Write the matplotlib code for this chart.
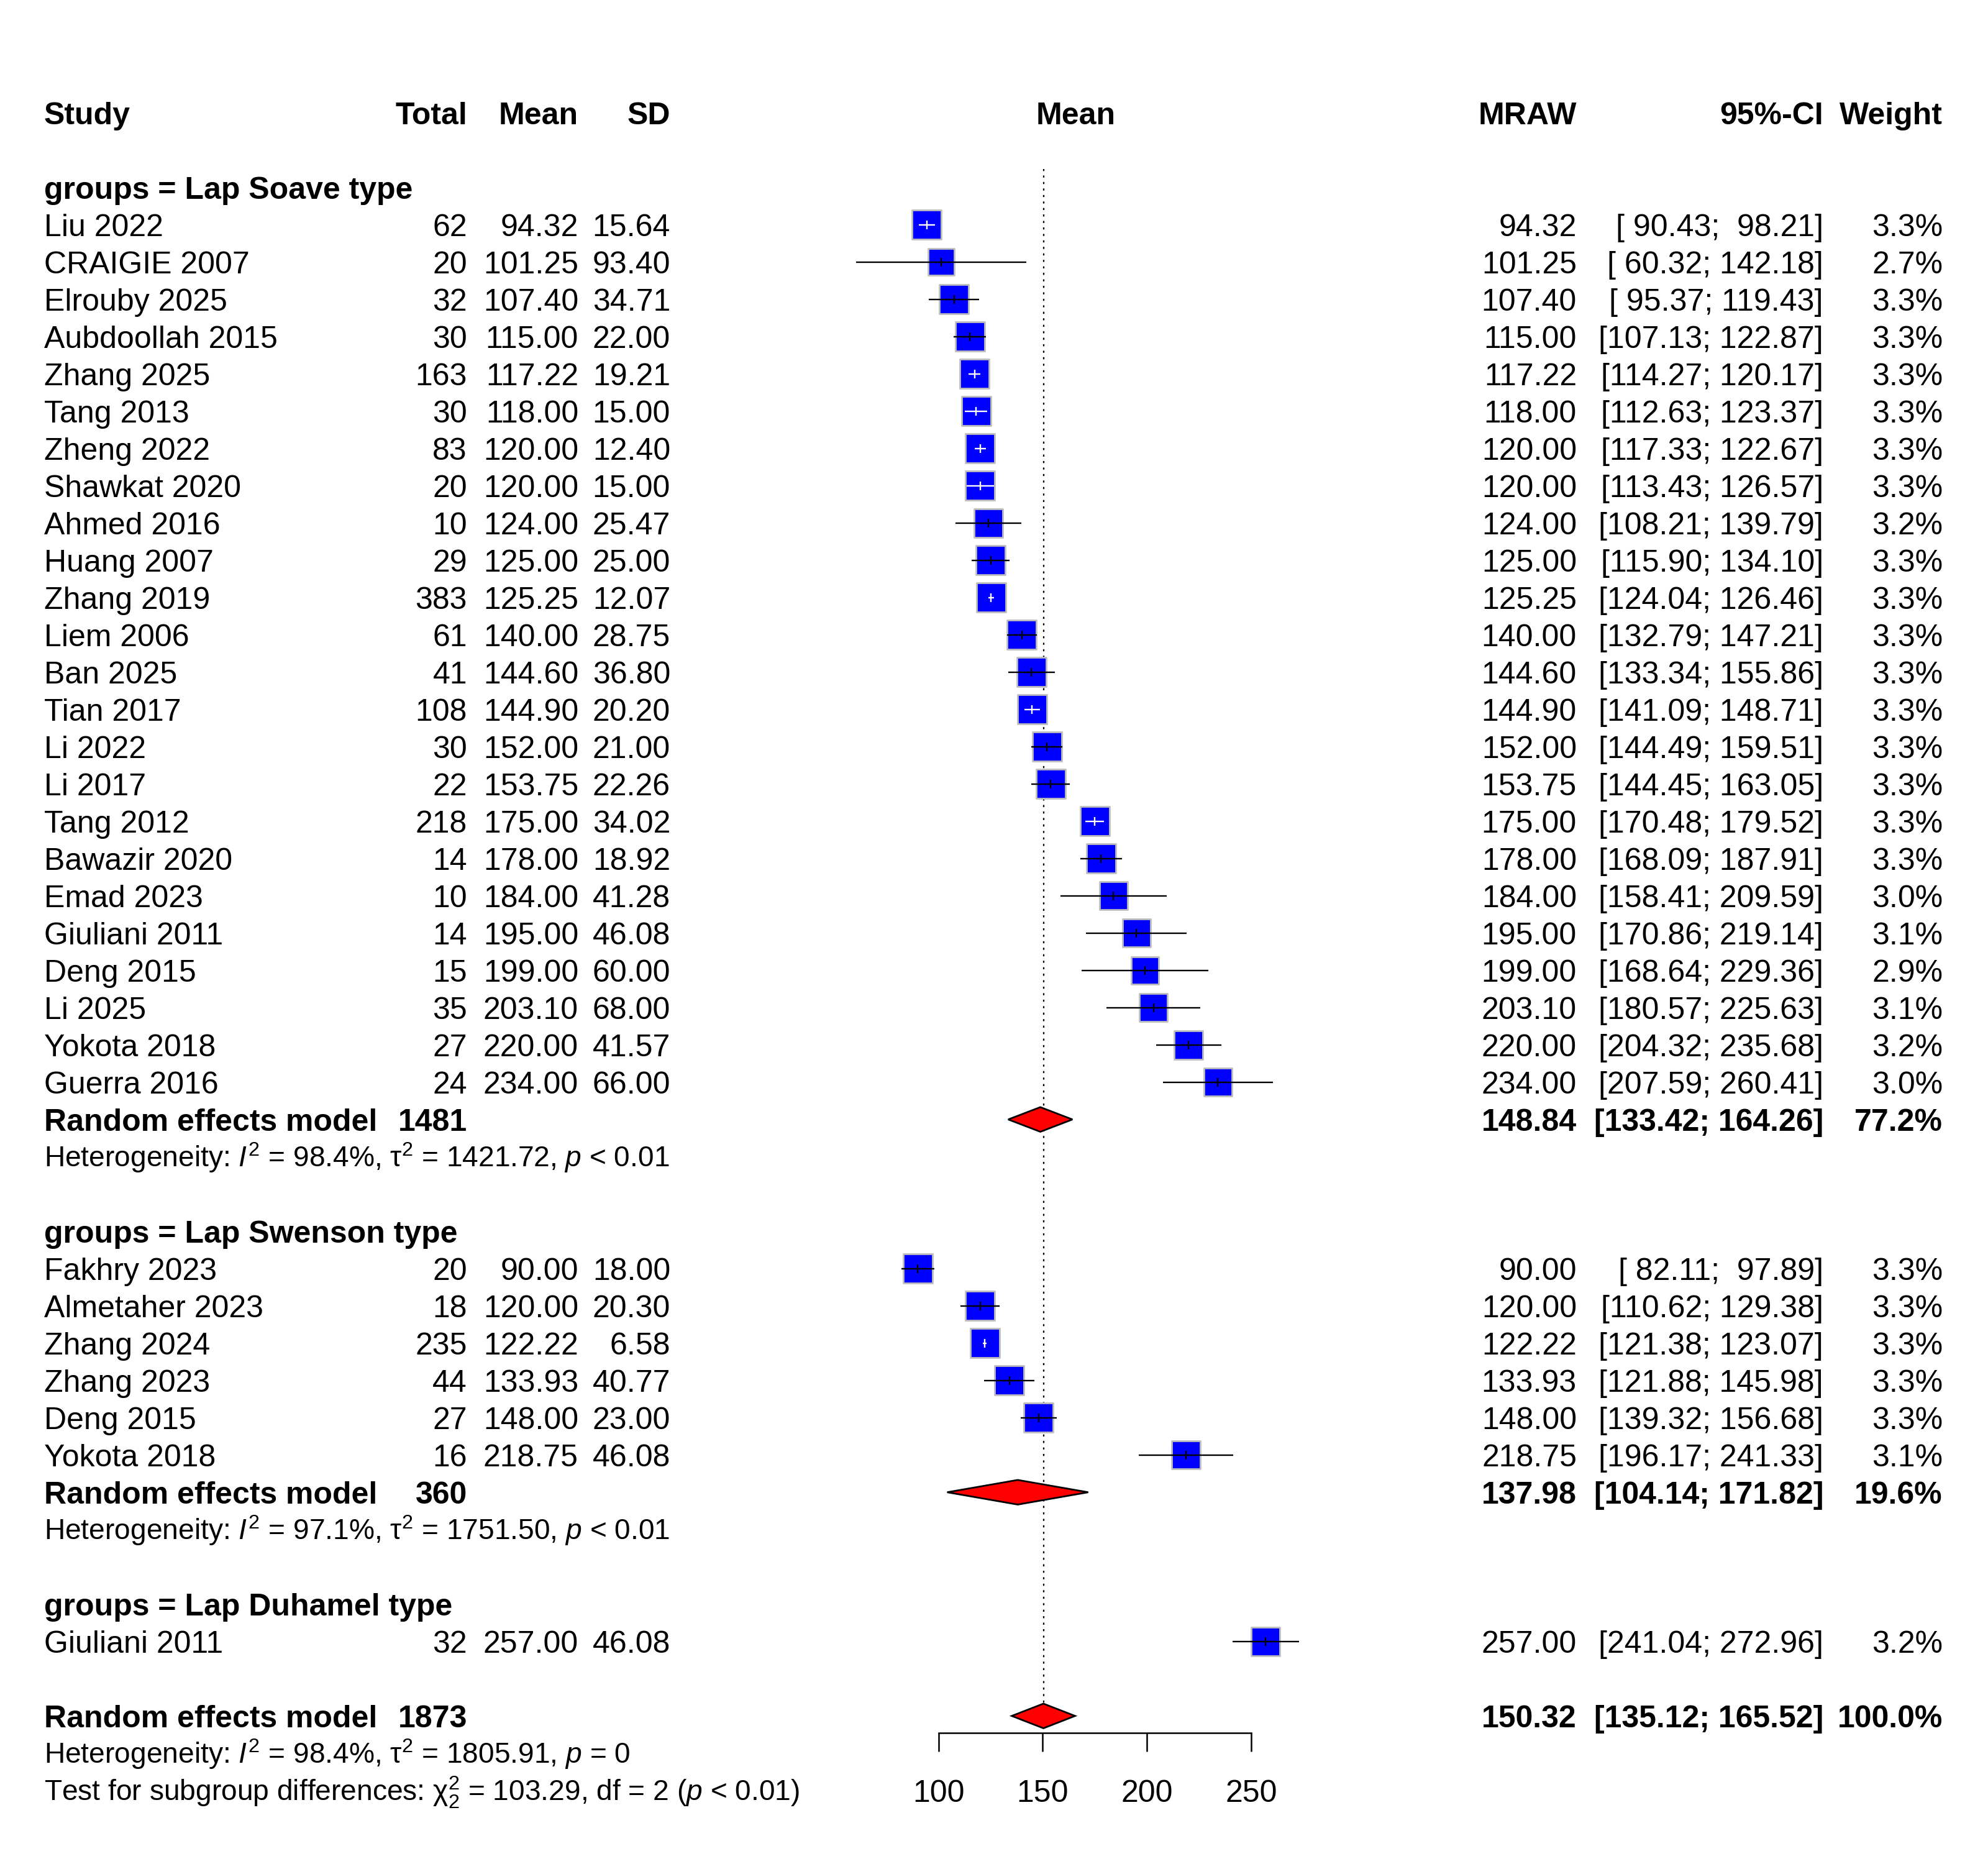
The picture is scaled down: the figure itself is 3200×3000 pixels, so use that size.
import numpy as np
import matplotlib.pyplot as plt
from matplotlib.patches import Polygon

plt.rcParams['font.family'] = ['Liberation Sans', 'DejaVu Sans']
plt.rcParams['mathtext.fontset'] = 'custom'
plt.rcParams['mathtext.rm'] = 'Liberation Sans'
plt.rcParams['mathtext.it'] = 'Liberation Sans:italic'
plt.rcParams['mathtext.bf'] = 'Liberation Sans:bold'

# ---- data ----
group_names = ["Lap Soave type", "Lap Swenson type", "Lap Duhamel type"]

study = ["Liu 2022", "CRAIGIE 2007", "Elrouby 2025", "Aubdoollah 2015", "Zhang 2025",
         "Tang 2013", "Zheng 2022", "Shawkat 2020", "Ahmed 2016", "Huang 2007",
         "Zhang 2019", "Liem 2006", "Ban 2025", "Tian 2017", "Li 2022", "Li 2017",
         "Tang 2012", "Bawazir 2020", "Emad 2023", "Giuliani 2011", "Deng 2015",
         "Li 2025", "Yokota 2018", "Guerra 2016",
         "Fakhry 2023", "Almetaher 2023", "Zhang 2024", "Zhang 2023", "Deng 2015",
         "Yokota 2018",
         "Giuliani 2011"]
group = [0] * 24 + [1] * 6 + [2]
total = [62, 20, 32, 30, 163, 30, 83, 20, 10, 29, 383, 61, 41, 108, 30, 22, 218, 14,
         10, 14, 15, 35, 27, 24,
         20, 18, 235, 44, 27, 16,
         32]
mean = [94.32, 101.25, 107.40, 115.00, 117.22, 118.00, 120.00, 120.00, 124.00, 125.00,
        125.25, 140.00, 144.60, 144.90, 152.00, 153.75, 175.00, 178.00, 184.00, 195.00,
        199.00, 203.10, 220.00, 234.00,
        90.00, 120.00, 122.22, 133.93, 148.00, 218.75,
        257.00]
sd = [15.64, 93.40, 34.71, 22.00, 19.21, 15.00, 12.40, 15.00, 25.47, 25.00,
      12.07, 28.75, 36.80, 20.20, 21.00, 22.26, 34.02, 18.92, 41.28, 46.08,
      60.00, 68.00, 41.57, 66.00,
      18.00, 20.30, 6.58, 40.77, 23.00, 46.08,
      46.08]
ci_lo = [90.43, 60.32, 95.37, 107.13, 114.27, 112.63, 117.33, 113.43, 108.21, 115.90,
         124.04, 132.79, 133.34, 141.09, 144.49, 144.45, 170.48, 168.09, 158.41, 170.86,
         168.64, 180.57, 204.32, 207.59,
         82.11, 110.62, 121.38, 121.88, 139.32, 196.17,
         241.04]
ci_hi = [98.21, 142.18, 119.43, 122.87, 120.17, 123.37, 122.67, 126.57, 139.79, 134.10,
         126.46, 147.21, 155.86, 148.71, 159.51, 163.05, 179.52, 187.91, 209.59, 219.14,
         229.36, 225.63, 235.68, 260.41,
         97.89, 129.38, 123.07, 145.98, 156.68, 241.33,
         272.96]
weight = [3.3, 2.7, 3.3, 3.3, 3.3, 3.3, 3.3, 3.3, 3.2, 3.3, 3.3, 3.3, 3.3, 3.3, 3.3,
          3.3, 3.3, 3.3, 3.0, 3.1, 2.9, 3.1, 3.2, 3.0,
          3.3, 3.3, 3.3, 3.3, 3.3, 3.1,
          3.2]

# subgroup random effects summaries (None = single study, no pooling)
re_total = [1481, 360, None]
re_mean = [148.84, 137.98, None]
re_lo = [133.42, 104.14, None]
re_hi = [164.26, 171.82, None]
re_weight = [77.2, 19.6, None]
het_i2 = ["98.4%", "97.1%", None]
het_tau2 = ["1421.72", "1751.50", None]
het_p = ["< 0.01", "< 0.01", None]

overall_total = 1873
overall_mean = 150.32
overall_lo = 135.12
overall_hi = 165.52
overall_weight = 100.0
overall_i2 = "98.4%"
overall_tau2 = "1805.91"
overall_p = "= 0"
test_chi2 = "103.29"
test_df = 2
test_p = "< 0.01"

xticks = [100, 150, 200, 250]

# ---- layout (pixels of the 3200x3000 image) ----
W, H, DPI = 3200, 3000, 200
ROW0, ROWH = 181.7, 60.0
FS, FS_HET = 18.0, 16.6
X_STUDY, X_TOTAL, X_MEAN, X_SD = 71, 752, 931, 1079
X_MRAW, X_CI, X_W, X_FHEAD = 2538, 2935, 3127, 1732
F_LEFT, F_RIGHT = 1510.8, 2013.8

fig = plt.figure(figsize=(W / DPI, H / DPI), dpi=DPI)
ylim = ((H - ROW0) / ROWH, -ROW0 / ROWH)

ax_t = fig.add_axes([0, 0, 1, 1])
ax_t.set_xlim(0, W)
ax_t.set_ylim(*ylim)
ax_t.axis('off')

ax_f = fig.add_axes([F_LEFT / W, 0, (F_RIGHT - F_LEFT) / W, 1])
ax_f.set_xlim(xticks[0], xticks[-1])
ax_f.set_ylim(*ylim)
ax_f.patch.set_visible(False)

px_per_val = (F_RIGHT - F_LEFT) / (xticks[-1] - xticks[0])


def put(x, r, s, ha='left', bold=False, size=FS):
    cap = 0.716 * size * DPI / 72 / ROWH
    ax_t.text(x, r + cap / 2, s, ha=ha, va='baseline', fontsize=size,
              fontweight='bold' if bold else 'normal')


def ci_text(lo, hi):
    return f"[{lo:6.2f}; {hi:6.2f}]"


def het_text(i2, tau2, p):
    return (r"Heterogeneity: $\mathit{I}^2$ = " + i2 + r", $\mathrm{\tau}^2$ = "
            + tau2 + r", $\mathit{p}$ " + p)


def diamond(m, lo, hi, r):
    h = 0.33
    ax_f.add_patch(Polygon([(lo, r), (m, r - h), (hi, r), (m, r + h)], closed=True,
                           facecolor='#FF0000', edgecolor='black', lw=1.0,
                           zorder=4, clip_on=False))


# header
for x, s, ha in [(X_STUDY, "Study", 'left'), (X_TOTAL, "Total", 'right'),
                 (X_MEAN, "Mean", 'right'), (X_SD, "SD", 'right'),
                 (X_FHEAD, "Mean", 'center'), (X_MRAW, "MRAW", 'right'),
                 (X_CI, "95%-CI", 'right'), (X_W, "Weight", 'right')]:
    put(x, 0, s, ha=ha, bold=True)

# rows
sq_k = 86.75  # marker area (pt^2) per % weight
row = 2
study_rows = []
for g, gname in enumerate(group_names):
    put(X_STUDY, row, "groups = " + gname, bold=True)
    row += 1
    for i in [j for j in range(len(study)) if group[j] == g]:
        put(X_STUDY, row, study[i])
        put(X_TOTAL, row, str(total[i]), ha='right')
        put(X_MEAN, row, f"{mean[i]:.2f}", ha='right')
        put(X_SD, row, f"{sd[i]:.2f}", ha='right')
        put(X_MRAW, row, f"{mean[i]:.2f}", ha='right')
        put(X_CI, row, ci_text(ci_lo[i], ci_hi[i]), ha='right')
        put(X_W, row, f"{weight[i]:.1f}%", ha='right')
        study_rows.append((i, row))
        row += 1
    if re_total[g] is not None:
        put(X_STUDY, row, "Random effects model", bold=True)
        put(X_TOTAL, row, str(re_total[g]), ha='right', bold=True)
        put(X_MRAW, row, f"{re_mean[g]:.2f}", ha='right', bold=True)
        put(X_CI, row, ci_text(re_lo[g], re_hi[g]), ha='right', bold=True)
        put(X_W, row, f"{re_weight[g]:.1f}%", ha='right', bold=True)
        diamond(re_mean[g], re_lo[g], re_hi[g], row)
        row += 1
        put(X_STUDY, row, het_text(het_i2[g], het_tau2[g], het_p[g]), size=FS_HET)
        row += 1
    row += 1

# overall
put(X_STUDY, row, "Random effects model", bold=True)
put(X_TOTAL, row, str(overall_total), ha='right', bold=True)
put(X_MRAW, row, f"{overall_mean:.2f}", ha='right', bold=True)
put(X_CI, row, ci_text(overall_lo, overall_hi), ha='right', bold=True)
put(X_W, row, f"{overall_weight:.1f}%", ha='right', bold=True)
diamond(overall_mean, overall_lo, overall_hi, row)
overall_row = row
put(X_STUDY, row + 1, het_text(overall_i2, overall_tau2, overall_p), size=FS_HET)
put(X_STUDY, row + 2, r"Test for subgroup differences: $\mathrm{\chi}^2_2$ = " + test_chi2
    + f", df = {test_df} (" + r"$\mathit{p}$ " + test_p + ")", size=FS_HET)

# reference line at the overall estimate
ax_f.plot([overall_mean, overall_mean], [1.5, overall_row], color='black', lw=0.8,
          ls=(0, (1.5, 3.2)), zorder=1, clip_on=False)

# study squares and confidence intervals
idx = [i for i, _ in study_rows]
rows = [r for _, r in study_rows]
sizes = [sq_k * weight[i] for i in idx]
ax_f.scatter([mean[i] for i in idx], rows, s=sizes, marker='s', c='#0000FF',
             edgecolors='#BEBEBE', linewidths=1.0, zorder=2, clip_on=False)
for (i, r), s in zip(study_rows, sizes):
    half = np.sqrt(s) * DPI / 72 / px_per_val / 2
    inside = ci_lo[i] > mean[i] - half and ci_hi[i] < mean[i] + half
    col = 'white' if inside else 'black'
    ax_f.plot([ci_lo[i], ci_hi[i]], [r, r], color=col, lw=0.85, zorder=3, clip_on=False,
              solid_capstyle='butt')
    ax_f.plot([mean[i], mean[i]], [r - 0.12, r + 0.12], color=col, lw=0.85, zorder=3,
              clip_on=False, solid_capstyle='butt')

# axis
for side in ['top', 'left', 'right']:
    ax_f.spines[side].set_visible(False)
ax_f.spines['bottom'].set_position(('data', overall_row + 0.46))
ax_f.spines['bottom'].set_linewidth(0.9)
ax_f.set_yticks([])
ax_f.set_xticks(xticks)
ax_f.set_xticklabels([str(t) for t in xticks])
ax_f.tick_params(axis='x', direction='out', length=10.8, width=0.9, labelsize=FS, pad=16)

fig.savefig("out.png", dpi=DPI, facecolor='white')
